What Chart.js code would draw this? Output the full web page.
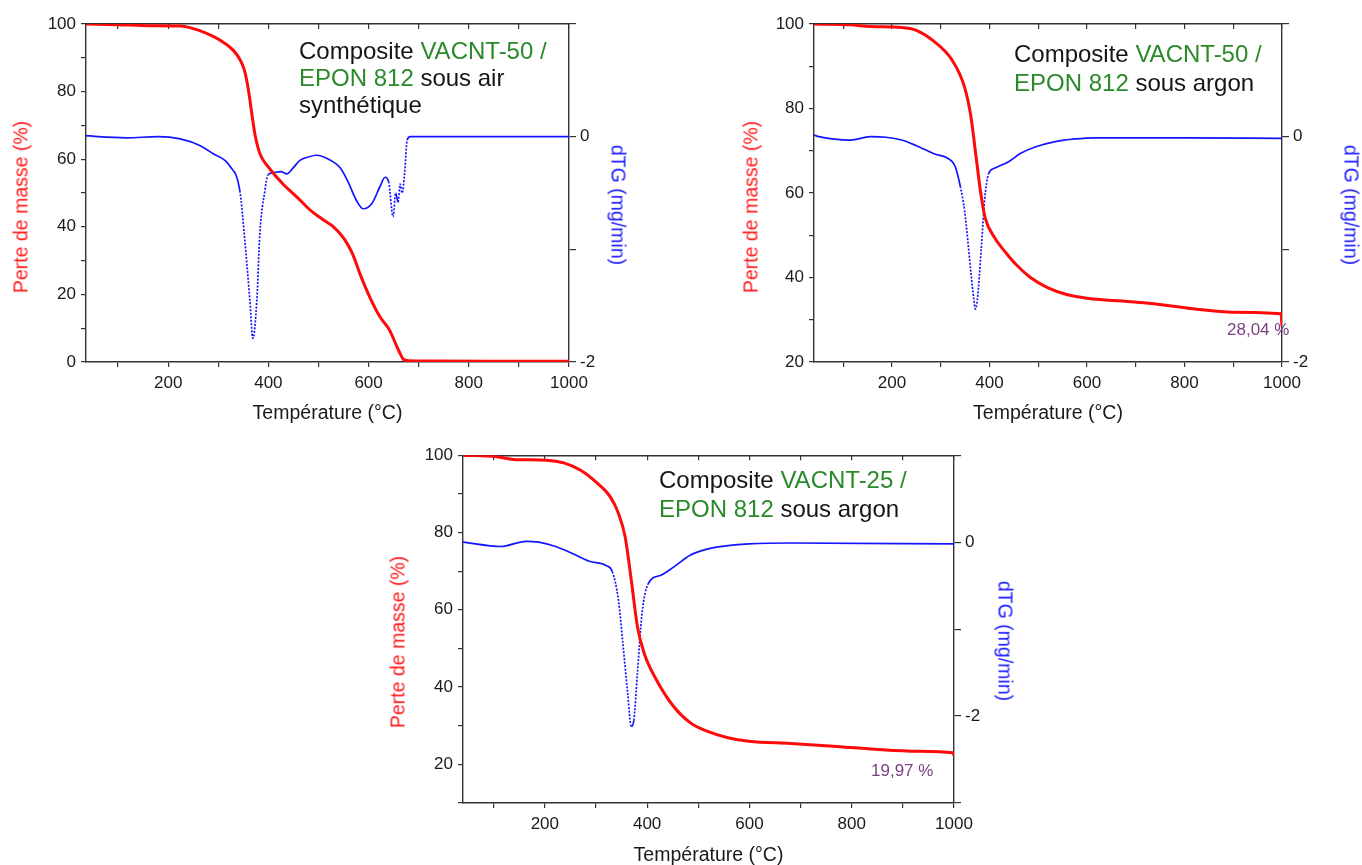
<!DOCTYPE html>
<html>
<head>
<meta charset="utf-8">
<script src="https://cdn.jsdelivr.net/npm/chart.js@4.4.0/dist/chart.umd.min.js"></script>
<style>
  body { margin:0; background:#fff; width:1362px; height:865px; position:relative; overflow:hidden;
         font-family:"Liberation Sans", Arial, sans-serif; }
  canvas { position:absolute; }
  .note { position:absolute; font-size:24px; color:#151515; white-space:nowrap; }
  .g { color:#2a8a2a; }
  .pct { position:absolute; font-size:17px; line-height:20px; color:#7b4282; white-space:nowrap; }
  .ytitle { position:absolute; font-size:19.5px; white-space:nowrap; transform:translate(-50%,-50%) rotate(-90deg); }
  .ytitle.r { transform:translate(-50%,-50%) rotate(90deg); }
</style>
</head>
<body>
<canvas id="c1" width="640" height="430" style="left:0;top:0"></canvas>
<canvas id="c2" width="642" height="430" style="left:720px;top:0"></canvas>
<canvas id="c3" width="660" height="425" style="left:370px;top:440px"></canvas>

<div class="note" style="left:299px;top:37px;line-height:27px">Composite <span class="g">VACNT-50 /</span><br><span class="g">EPON 812</span> sous air<br>synthétique</div>
<div class="note" style="left:1014px;top:40px;line-height:28.5px">Composite <span class="g">VACNT-50 /</span><br><span class="g">EPON 812</span> sous argon</div>
<div class="note" style="left:659px;top:465px;line-height:29px">Composite <span class="g">VACNT-25 /</span><br><span class="g">EPON 812</span> sous argon</div>
<div class="pct" style="left:1227px;top:320px">28,04 %</div>
<div class="pct" style="left:871px;top:761px">19,97 %</div>

<div class="ytitle" style="left:21px;top:207px;color:#ff1a1a">Perte de masse (%)</div>
<div class="ytitle r" style="left:618px;top:205px;color:#2020ff">dTG (mg/min)</div>
<div class="ytitle" style="left:751px;top:207px;color:#ff1a1a">Perte de masse (%)</div>
<div class="ytitle r" style="left:1351px;top:205px;color:#2020ff">dTG (mg/min)</div>
<div class="ytitle" style="left:398px;top:642px;color:#ff1a1a">Perte de masse (%)</div>
<div class="ytitle r" style="left:1005px;top:641px;color:#2020ff">dTG (mg/min)</div>

<script>
"use strict";

// axes ticks
const tempTicks = [100, 200, 300, 400, 500, 600, 700, 800, 900, 1000];
const tempLabels = [200, 400, 600, 800, 1000];
const dtgLabels = [0, -2];

// VACNT-50 / EPON 812, air synthetique
const air_tg_T = [36, 100, 164, 224, 260, 289, 312, 330, 342, 352, 360, 367, 373, 380, 387, 403, 430, 457, 483, 510, 530, 552, 568, 583, 603, 623, 642, 654, 662, 670, 680, 733, 850, 1000];
const air_tg = [100, 99.8, 99.5, 99.4, 98.2, 96.4, 94.4, 92.2, 89.8, 86.4, 80.6, 73.4, 67.5, 63, 60.4, 57.1, 52.5, 48.8, 45, 42, 40, 36.3, 32, 26, 19, 13.3, 9.4, 5.4, 2.8, 0.7, 0.4, 0.3, 0.25, 0.2];
const air_dtg_T = [36, 60, 117, 180, 224, 264, 289, 323, 343, 353, 363, 369, 377, 383, 393, 399, 409, 425, 437, 449, 463, 480, 496, 520, 544, 560, 575, 589, 607, 623, 633, 640, 649, 654, 659, 663, 667, 672, 677, 683, 800, 1000];
const air_dtg = [0.01, 0, -0.01, 0, -0.02, -0.08, -0.15, -0.26, -0.48, -0.92, -1.45, -1.79, -1.45, -0.86, -0.48, -0.34, -0.32, -0.31, -0.33, -0.28, -0.21, -0.18, -0.165, -0.2, -0.28, -0.41, -0.56, -0.64, -0.59, -0.44, -0.36, -0.4, -0.71, -0.5, -0.58, -0.42, -0.5, -0.32, -0.03, 0, 0, 0];

// VACNT-50 / EPON 812, argon
const ar50_tg_T = [40, 115, 156, 220, 250, 285, 323, 349, 362, 372, 382, 391, 410, 434, 455, 484, 519, 560, 600, 697, 737, 818, 899, 998, 1000];
const ar50_tg = [100, 99.8, 99.4, 99.2, 98.5, 96, 91.5, 85, 78, 69, 60, 54.2, 49.5, 45.8, 43, 40, 37.6, 35.9, 35.1, 34.2, 33.8, 32.6, 31.8, 31.4, 28.5];
const ar50_dtg_T = [40, 50, 115, 156, 188, 220, 250, 285, 323, 330, 340, 349, 362, 368, 371, 375, 383, 390, 398, 410, 440, 463, 495, 535, 576, 616, 657, 800, 1000];
const ar50_dtg = [0.015, 0, -0.03, 0, -0.005, -0.03, -0.08, -0.15, -0.22, -0.27, -0.44, -0.66, -1.21, -1.45, -1.53, -1.45, -1.0, -0.56, -0.33, -0.28, -0.22, -0.15, -0.09, -0.044, -0.02, -0.01, -0.01, -0.01, -0.015];

// VACNT-25 / EPON 812, argon
const ar25_tg_T = [40, 106, 139, 204, 237, 270, 303, 328, 344, 357, 369, 381, 394, 418, 451, 484, 517, 558, 599, 681, 764, 846, 928, 998, 1000];
const ar25_tg = [100, 99.6, 98.9, 98.7, 98, 96.1, 92.7, 89.2, 84.9, 78.9, 67.7, 55.7, 48.8, 41.9, 35.1, 30.8, 28.6, 26.9, 26, 25.4, 24.7, 23.9, 23.4, 23, 22.3];
const ar25_dtg_T = [40, 114, 163, 188, 221, 254, 287, 320, 332, 344, 352, 362, 369, 374, 381, 390, 402, 427, 451, 484, 517, 558, 599, 681, 1000];
const ar25_dtg = [0, -0.05, 0.01, 0, -0.05, -0.13, -0.22, -0.27, -0.34, -0.67, -1.13, -1.74, -2.12, -2.05, -1.51, -0.82, -0.48, -0.38, -0.29, -0.15, -0.08, -0.04, -0.02, -0.01, -0.02];

Chart.defaults.font.family = "'Liberation Sans', Arial, sans-serif";
Chart.defaults.color = "#1a1a1a";

function pts(xs, ys) {
  return xs.map(function (x, i) { return { x: x, y: ys[i] }; });
}
function range(a, b, s) {
  const out = [];
  for (let v = a; v <= b + 1e-9; v += s) out.push(v);
  return out;
}

const axisCol = "#333";

// the dTG trace looks dotted where it falls fast (sparse points in the original)
function steepDash(ctx) {
  const dx = Math.abs(ctx.p1.x - ctx.p0.x) || 0.01;
  return Math.abs(ctx.p1.y - ctx.p0.y) / dx > 4 ? [2, 1.5] : undefined;
}

function makeChart(id, o) {
  const setTicks = function (vals) {
    return function (s) { s.ticks = vals.map(function (v) { return { value: v }; }); };
  };
  return new Chart(document.getElementById(id), {
    type: "line",
    data: {
      datasets: [
        { data: pts(o.tgT, o.tg), borderColor: "#ff0a0a", borderWidth: 3, pointRadius: 0,
          xAxisID: "x", yAxisID: "y", cubicInterpolationMode: "monotone" },
        { data: pts(o.dtgT, o.dtg), borderColor: "#1414ff", borderWidth: 1.7, pointRadius: 0,
          xAxisID: "x", yAxisID: "y2", cubicInterpolationMode: "monotone",
          segment: { borderDash: steepDash } }
      ]
    },
    options: {
      responsive: false,
      animation: false,
      devicePixelRatio: 1,
      layout: { padding: 0 },
      plugins: { legend: { display: false }, tooltip: { enabled: false } },
      scales: {
        x: {
          type: "linear", position: "bottom", min: o.xmin, max: 1000,
          afterBuildTicks: setTicks(tempTicks),
          afterFit: function (s) { s.height = o.bottom; },
          ticks: { callback: function (v) { return tempLabels.includes(v) ? String(v) : ""; },
                   font: { size: 17 }, padding: 6, maxRotation: 0, autoSkip: false },
          grid: { drawOnChartArea: false, tickLength: 5, color: axisCol, lineWidth: 1.2 },
          border: { color: axisCol, width: 1.4 },
          title: { display: true, text: "Température (°C)", font: { size: 19.5 },
                   padding: { top: 0, bottom: o.xTitlePad } }
        },
        x2: {
          type: "linear", position: "top", min: o.xmin, max: 1000,
          afterBuildTicks: setTicks(tempTicks),
          afterFit: function (s) { s.height = o.top; },
          ticks: { display: false },
          grid: { drawOnChartArea: false, tickLength: -5, color: axisCol, lineWidth: 1.2 },
          border: { color: axisCol, width: 1.4 }
        },
        y: {
          type: "linear", position: "left", min: o.ymin, max: 100,
          afterBuildTicks: setTicks(range(o.ymin, 100, 10)),
          afterFit: function (s) { s.width = o.left; },
          ticks: { callback: function (v) { return v % 20 === 0 ? String(v) : ""; },
                   font: { size: 17 }, padding: 5, autoSkip: false },
          grid: { drawOnChartArea: false, tickLength: 5, color: axisCol, lineWidth: 1.2 },
          border: { color: axisCol, width: 1.4 }
        },
        y2: {
          type: "linear", position: "right", min: o.dmin, max: 1,
          afterBuildTicks: setTicks(range(o.dmin, 1, 1)),
          afterFit: function (s) { s.width = o.right; },
          ticks: { callback: function (v) { return dtgLabels.includes(v) ? String(v) : ""; },
                   font: { size: 17 }, padding: 4, autoSkip: false },
          grid: { drawOnChartArea: false, tickLength: 7, color: axisCol, lineWidth: 1.2 },
          border: { color: axisCol, width: 1.4 }
        }
      }
    }
  });
}

makeChart("c1", { tgT: air_tg_T, tg: air_tg, dtgT: air_dtg_T, dtg: air_dtg,
  xmin: 36, ymin: 0, dmin: -2, left: 86, right: 71, top: 24, bottom: 68, xTitlePad: 5 });
makeChart("c2", { tgT: ar50_tg_T, tg: ar50_tg, dtgT: ar50_dtg_T, dtg: ar50_dtg,
  xmin: 40, ymin: 20, dmin: -2, left: 94, right: 80, top: 24, bottom: 68, xTitlePad: 5 });
makeChart("c3", { tgT: ar25_tg_T, tg: ar25_tg, dtgT: ar25_dtg_T, dtg: ar25_dtg,
  xmin: 40, ymin: 10, dmin: -3, left: 93, right: 76, top: 15, bottom: 62, xTitlePad: -2 });
</script>
</body>
</html>
